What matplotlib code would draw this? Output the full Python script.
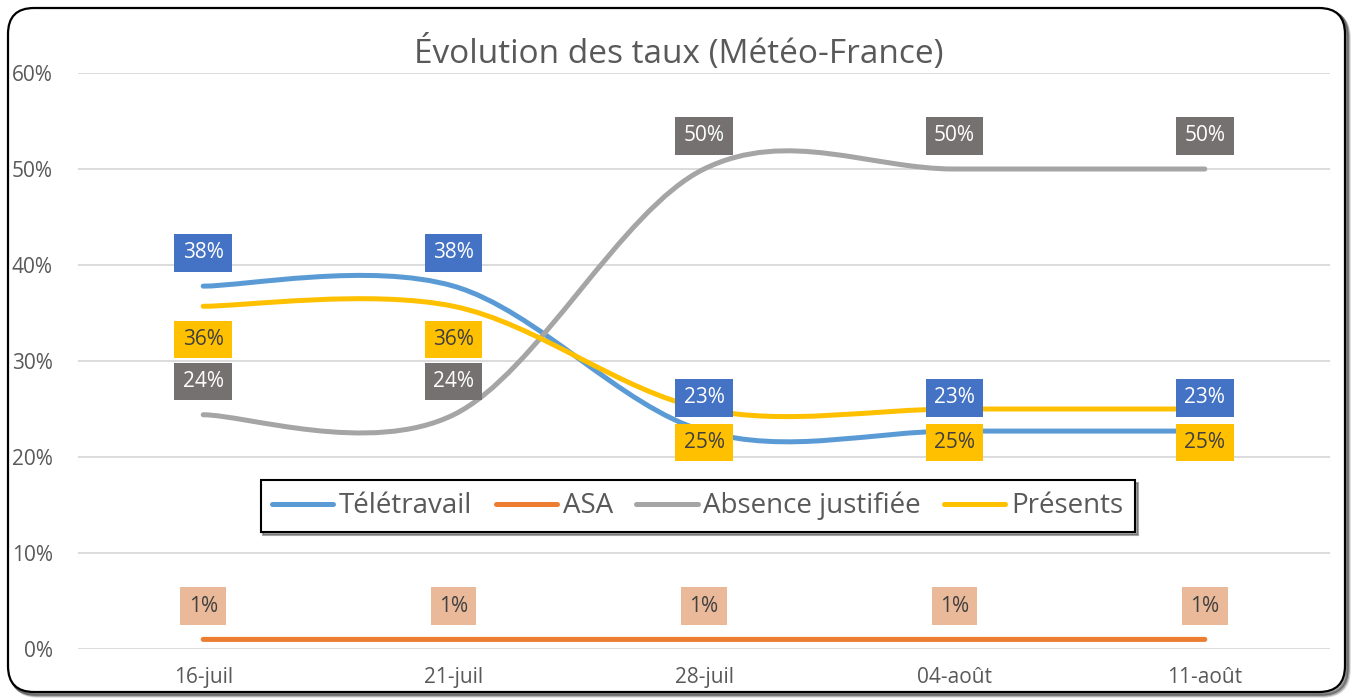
import numpy as np
import matplotlib
matplotlib.use("Agg")
import matplotlib.pyplot as plt
from matplotlib.path import Path
from matplotlib.patches import PathPatch, FancyBboxPatch
from matplotlib.lines import Line2D

# données
dates = ['16-juil', '21-juil', '28-juil', '04-août', '11-août']
teletravail = [37.8, 37.8, 22.7, 22.7, 22.7]
asa = [1.0, 1.0, 1.0, 1.0, 1.0]
absence = [24.4, 24.4, 50.0, 50.0, 50.0]
presents = [35.7, 35.7, 25.0, 25.0, 25.0]
lbl_tele = ['38%', '38%', '23%', '23%', '23%']
lbl_asa = ['1%', '1%', '1%', '1%', '1%']
lbl_abs = ['24%', '24%', '50%', '50%', '50%']
lbl_pres = ['36%', '36%', '25%', '25%', '25%']
y_ticks = [0, 10, 20, 30, 40, 50, 60]

plt.rcParams['font.family'] = ['Open Sans', 'DejaVu Sans']
GRIS_TXT = '#595959'


def courbe_lissee(xs, ys):
    """Chemin de Bézier façon 'ligne lissée' d'Excel."""
    pts = np.column_stack([xs, ys]).astype(float)
    n = len(pts)
    verts = [pts[0]]
    codes = [Path.MOVETO]
    for i in range(n - 1):
        p0 = pts[max(i - 1, 0)]
        p1 = pts[i]
        p2 = pts[i + 1]
        p3 = pts[min(i + 2, n - 1)]
        c1 = p1 + (p2 - p0) / 6.0
        c2 = p2 - (p3 - p1) / 6.0
        verts += [c1, c2, p2]
        codes += [Path.CURVE4] * 3
    return Path(verts, codes)


fig = plt.figure(figsize=(13.54, 6.98), dpi=100)

# cadre arrondi avec ombre
bg = fig.add_axes([0, 0, 1, 1], zorder=-5)
bg.set_xlim(0, 1354)
bg.set_ylim(698, 0)
bg.axis('off')
for k, a in [(4, 0.15), (3, 0.25), (2, 0.35)]:
    bg.add_patch(FancyBboxPatch((8 + k, 8 + k), 1337, 684,
                                boxstyle="round,pad=0,rounding_size=26",
                                fc='none', ec='black', lw=2.5, alpha=a))
bg.add_patch(FancyBboxPatch((8, 8), 1337, 684,
                            boxstyle="round,pad=0,rounding_size=26",
                            fc='white', ec='black', lw=1.6))

ax = fig.add_axes([0.0576, 0.0702, 0.9247, 0.8252])
ax.set_facecolor('none')
x = np.arange(len(dates))

series = [
    ('Télétravail', teletravail, '#5B9BD5', lbl_tele, '#4472C4', 'white', 24),
    ('ASA', asa, '#ED7D31', lbl_asa, '#EAB99A', '#404040', 24),
    ('Absence justifiée', absence, '#A5A5A5', lbl_abs, '#767171', 'white', 24),
    ('Présents', presents, '#FFC000', lbl_pres, '#FFC000', '#404040', -24),
]

handles = []
for i, (nom, vals, col, lbls, bcol, tcol, dy) in enumerate(series):
    ax.add_patch(PathPatch(courbe_lissee(x, vals), fc='none', ec=col, lw=3.6,
                           capstyle='round', joinstyle='round', zorder=3 + i))
    handles.append(Line2D([], [], color=col, lw=3.6, solid_capstyle='round', label=nom))
    for xi, v, t in zip(x, vals, lbls):
        ax.annotate(t, (xi, v), xytext=(0, dy), textcoords='offset points',
                    ha='center', va='center', fontsize=15, color=tcol, zorder=10,
                    bbox=dict(boxstyle='square,pad=0.4', fc=bcol, ec='none'))

ax.set_xlim(-0.5, 4.5)
ax.set_ylim(0, 60)
ax.set_yticks(y_ticks)
ax.set_yticklabels([f'{v}%' for v in y_ticks])
ax.set_xticks(x)
ax.set_xticklabels(dates)
ax.tick_params(axis='both', length=0, labelsize=15, labelcolor=GRIS_TXT)
ax.tick_params(axis='y', pad=18)
ax.tick_params(axis='x', pad=13)
ax.grid(axis='y', color='#D9D9D9', lw=1.3)
ax.set_axisbelow(True)
for s in ax.spines.values():
    s.set_visible(False)

fig.text(0.5 + 0.0015, 1 - 53 / 698, 'Évolution des taux (Météo-France)',
         fontsize=24, color=GRIS_TXT, ha='center', va='center')

leg = ax.legend(handles=handles, loc='center', bbox_to_anchor=(0.495, 0.248), ncol=4,
                fontsize=20, frameon=True, fancybox=False, shadow=True,
                edgecolor='black', handlelength=2.2, columnspacing=0.85,
                handletextpad=0.2, borderpad=0.42, borderaxespad=0,
                labelcolor=GRIS_TXT)
leg.get_frame().set_linewidth(1.5)
leg.set_zorder(20)

fig.savefig('out.png', dpi=100)
